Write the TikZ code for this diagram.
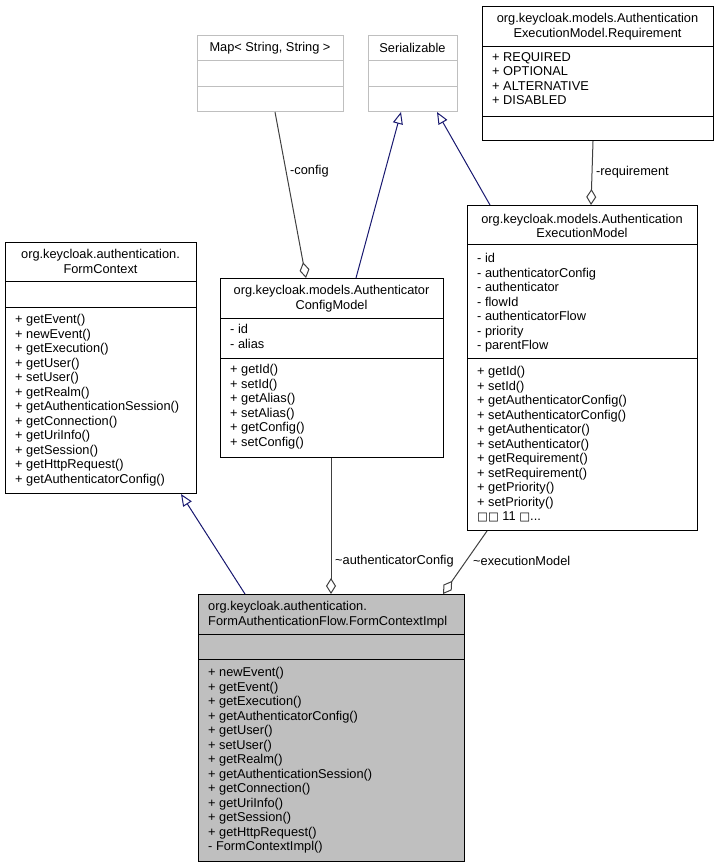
\documentclass[tikz,border=0pt]{standalone}
\usepackage{fontspec}
\setmainfont{Liberation Sans}
\newfontfamily\dejavu{DejaVu Sans}
\usetikzlibrary{arrows.meta,calc}
\definecolor{navyline}{RGB}{25,25,112}
\definecolor{assocline}{RGB}{64,64,64}
\definecolor{extgray}{RGB}{191,191,191}
\definecolor{implfill}{RGB}{191,191,191}
\newcommand\umlfont{\fontsize{12.8}{14.5}\selectfont}
\begin{document}
\begin{tikzpicture}[x=1pt,y=-1pt,
  cls/.style={draw=black, line width=1pt, fill=white, inner sep=0pt, anchor=north west},
  ext/.style={draw=extgray, line width=1pt, fill=white, inner sep=0pt, anchor=north west},
  sep/.style={draw=black, line width=1pt},
  esep/.style={draw=extgray, line width=1pt},
  txt/.style={inner sep=0pt, font=\umlfont, align=left, anchor=north west},
  ttl/.style={inner sep=0pt, font=\umlfont, align=center},
  lbl/.style={inner sep=0pt, font=\umlfont, anchor=west},
  inherit/.style={draw=navyline, line width=1pt, -{Triangle[open, length=12pt, width=10pt, line width=1pt]}},
  assoc/.style={draw=assocline, line width=1pt, -{Diamond[open, length=16pt, width=10pt, line width=1pt]}}
]
\useasboundingbox (0,0) rectangle (717,867);

% ---------- Map< String, String > ----------
\node[ext, minimum width=146pt, minimum height=76pt] (map) at (197,35) {};
\draw[esep] ($(map.north west)+(0,26)$) -- ($(map.north east)+(0,26)$);
\draw[esep] ($(map.north west)+(0,51)$) -- ($(map.north east)+(0,51)$);
\node[ttl] (mapt) at (270,48) {Map< String, String >};

% ---------- Serializable ----------
\node[ext, minimum width=89pt, minimum height=76pt] (ser) at (368,35) {};
\draw[esep] ($(ser.north west)+(0,26)$) -- ($(ser.north east)+(0,26)$);
\draw[esep] ($(ser.north west)+(0,51)$) -- ($(ser.north east)+(0,51)$);
\node[ttl] (sert) at (412.5,48) {Serializable};

% ---------- Requirement ----------
\node[cls, minimum width=231pt, minimum height=134pt] (req) at (482,6) {};
\draw[sep] ($(req.north west)+(0,41)$) -- ($(req.north east)+(0,41)$);
\draw[sep] ($(req.north west)+(0,110)$) -- ($(req.north east)+(0,110)$);
\node[ttl] (reqt) at (597.5,26.8) {org.keycloak.models.Authentication\\ExecutionModel.Requirement};
\node[txt] (reqa) at (492,52.3) {+ REQUIRED\\+ OPTIONAL\\+ ALTERNATIVE\\+ DISABLED};

% ---------- ExecutionModel ----------
\node[cls, minimum width=230pt, minimum height=325pt] (em) at (467,205) {};
\draw[sep] ($(em.north west)+(0,39)$) -- ($(em.north east)+(0,39)$);
\draw[sep] ($(em.north west)+(0,153)$) -- ($(em.north east)+(0,153)$);
\node[ttl] (emt) at (582,225.8) {org.keycloak.models.Authentication\\ExecutionModel};
\node[txt] (ema) at (477,253.3) {- id\\- authenticatorConfig\\- authenticator\\- flowId\\- authenticatorFlow\\- priority\\- parentFlow};
\node[txt] (emm) at (477,366.3) {+ getId()\\+ setId()\\+ getAuthenticatorConfig()\\+ setAuthenticatorConfig()\\+ getAuthenticator()\\+ setAuthenticator()\\+ getRequirement()\\+ setRequirement()\\+ getPriority()\\+ setPriority()\\{\dejavu\fontsize{11.5}{14.5}\selectfont □□} 11 {\dejavu\fontsize{11.5}{14.5}\selectfont □}...};

% ---------- AuthenticatorConfigModel ----------
\node[cls, minimum width=223pt, minimum height=179pt] (acm) at (220,278) {};
\draw[sep] ($(acm.north west)+(0,40)$) -- ($(acm.north east)+(0,40)$);
\draw[sep] ($(acm.north west)+(0,80)$) -- ($(acm.north east)+(0,80)$);
\node[ttl] (acmt) at (331.5,298.8) {org.keycloak.models.Authenticator\\ConfigModel};
\node[txt] (acma) at (230,324.3) {- id\\- alias};
\node[txt] (acmm) at (230,364.3) {+ getId()\\+ setId()\\+ getAlias()\\+ setAlias()\\+ getConfig()\\+ setConfig()};

% ---------- FormContext ----------
\node[cls, minimum width=191pt, minimum height=251pt] (fc) at (5,242) {};
\draw[sep] ($(fc.north west)+(0,39)$) -- ($(fc.north east)+(0,39)$);
\draw[sep] ($(fc.north west)+(0,65)$) -- ($(fc.north east)+(0,65)$);
\node[ttl] (fct) at (100.5,261.3) {org.keycloak.authentication.\\FormContext};
\node[txt] (fcm) at (15,314.3) {+ getEvent()\\+ newEvent()\\+ getExecution()\\+ getUser()\\+ setUser()\\+ getRealm()\\+ getAuthenticationSession()\\+ getConnection()\\+ getUriInfo()\\+ getSession()\\+ getHttpRequest()\\+ getAuthenticatorConfig()};

% ---------- FormContextImpl ----------
\node[cls, fill=implfill, minimum width=266pt, minimum height=267pt] (fci) at (198,594) {};
\draw[sep] ($(fci.north west)+(0,40)$) -- ($(fci.north east)+(0,40)$);
\draw[sep] ($(fci.north west)+(0,65)$) -- ($(fci.north east)+(0,65)$);
\node[txt] (fcit) at (208,601.3) {org.keycloak.authentication.\\FormAuthenticationFlow.FormContextImpl};
\node[txt] (fcim) at (208,667.3) {+ newEvent()\\+ getEvent()\\+ getExecution()\\+ getAuthenticatorConfig()\\+ getUser()\\+ setUser()\\+ getRealm()\\+ getAuthenticationSession()\\+ getConnection()\\+ getUriInfo()\\+ getSession()\\+ getHttpRequest()\\- FormContextImpl()};

% ---------- connectors ----------
\draw[inherit] ($(acm.north west)+(136,0)$) -- ($(ser.south west)+(33,0)$);
\draw[inherit] ($(em.north west)+(23,0)$) -- ($(ser.south west)+(69,0)$);
\draw[inherit] ($(fci.north west)+(47,0)$) -- ($(fc.south west)+(176,0)$);

\draw[assoc] ($(map.south west)+(78,0)$) -- ($(acm.north west)+(86,0)$);
\draw[assoc] ($(req.south west)+(111,0)$) -- ($(em.north west)+(124,0)$);
\draw[assoc] ($(acm.south west)+(111,0)$) -- ($(fci.north west)+(133,0)$);
\draw[assoc] ($(em.south west)+(20,0)$) -- ($(fci.north west)+(245,0)$);

\node[lbl] (lcfg) at (290,171) {-config};
\node[lbl] (lreq) at (596,172) {-requirement};
\node[lbl] (lacfg) at (335,561) {\textasciitilde authenticatorConfig};
\node[lbl] (lexec) at (473,561) {\textasciitilde executionModel};
\end{tikzpicture}
\end{document}
